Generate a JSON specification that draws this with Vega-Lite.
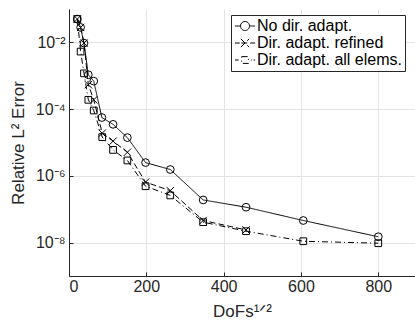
{
  "$schema": "https://vega.github.io/schema/vega-lite/v6.json",
  "autosize": "none",
  "padding": {"left": 69, "top": 9, "right": 0, "bottom": 45},
  "width": 346,
  "height": 267,
  "background": "white",
  "config": {
    "font": "Liberation Sans",
    "view": {"stroke": null},
    "axis": {
      "labelFont": "Liberation Sans",
      "titleFont": "Liberation Sans",
      "labelColor": "#262626",
      "titleColor": "#262626",
      "domainColor": "#262626",
      "tickColor": "#262626",
      "gridColor": "#e3e3e3",
      "labelFontSize": 16,
      "titleFontSize": 17,
      "titleFontWeight": "normal",
      "tickSize": -4
    },
    "legend": {
      "title": null,
      "orient": "none",
      "legendX": 162,
      "legendY": 6,
      "padding": 3,
      "strokeColor": "#262626",
      "fillColor": "white",
      "labelFont": "Liberation Sans",
      "labelFontSize": 16,
      "labelColor": "black",
      "rowPadding": 1,
      "labelOffset": 4,
      "symbolOffset": 3,
      "symbolSize": 225,
      "symbolStrokeColor": "black",
      "symbolFillColor": "transparent",
      "symbolStrokeWidth": 1
    }
  },
  "data": {
    "values": [
      {"series": "No dir. adapt.", "x": 21.5, "err": 0.05},
      {"series": "No dir. adapt.", "x": 30, "err": 0.028},
      {"series": "No dir. adapt.", "x": 38.8, "err": 0.0095},
      {"series": "No dir. adapt.", "x": 50, "err": 0.00107},
      {"series": "No dir. adapt.", "x": 64, "err": 0.00069},
      {"series": "No dir. adapt.", "x": 85, "err": 5.6e-5},
      {"series": "No dir. adapt.", "x": 114, "err": 3.5e-5},
      {"series": "No dir. adapt.", "x": 151, "err": 1.4e-5},
      {"series": "No dir. adapt.", "x": 198, "err": 2.5e-6},
      {"series": "No dir. adapt.", "x": 262, "err": 1.55e-6},
      {"series": "No dir. adapt.", "x": 347, "err": 1.9e-7},
      {"series": "No dir. adapt.", "x": 458, "err": 1.15e-7},
      {"series": "No dir. adapt.", "x": 606, "err": 4.6e-8},
      {"series": "No dir. adapt.", "x": 800, "err": 1.5e-8},
      {"series": "Dir. adapt. refined", "x": 21.5, "err": 0.05},
      {"series": "Dir. adapt. refined", "x": 30, "err": 0.028},
      {"series": "Dir. adapt. refined", "x": 38.8, "err": 0.0095},
      {"series": "Dir. adapt. refined", "x": 50, "err": 0.00054},
      {"series": "Dir. adapt. refined", "x": 64, "err": 0.00019},
      {"series": "Dir. adapt. refined", "x": 86, "err": 1.9e-5},
      {"series": "Dir. adapt. refined", "x": 114, "err": 1.1e-5},
      {"series": "Dir. adapt. refined", "x": 151, "err": 5.1e-6},
      {"series": "Dir. adapt. refined", "x": 198, "err": 6.5e-7},
      {"series": "Dir. adapt. refined", "x": 262, "err": 3.6e-7},
      {"series": "Dir. adapt. refined", "x": 347, "err": 4.6e-8},
      {"series": "Dir. adapt. refined", "x": 458, "err": 2.4e-8},
      {"series": "Dir. adapt. all elems.", "x": 21.5, "err": 0.05},
      {"series": "Dir. adapt. all elems.", "x": 30, "err": 0.0053},
      {"series": "Dir. adapt. all elems.", "x": 38.8, "err": 0.00118},
      {"series": "Dir. adapt. all elems.", "x": 50, "err": 0.00019},
      {"series": "Dir. adapt. all elems.", "x": 64, "err": 9.1e-5},
      {"series": "Dir. adapt. all elems.", "x": 86, "err": 1.45e-5},
      {"series": "Dir. adapt. all elems.", "x": 114, "err": 6e-6},
      {"series": "Dir. adapt. all elems.", "x": 151, "err": 2.9e-6},
      {"series": "Dir. adapt. all elems.", "x": 198, "err": 4.9e-7},
      {"series": "Dir. adapt. all elems.", "x": 262, "err": 2.6e-7},
      {"series": "Dir. adapt. all elems.", "x": 347, "err": 4.1e-8},
      {"series": "Dir. adapt. all elems.", "x": 458, "err": 2.2e-8},
      {"series": "Dir. adapt. all elems.", "x": 606, "err": 1.1e-8},
      {"series": "Dir. adapt. all elems.", "x": 800, "err": 9.6e-9}
    ]
  },
  "encoding": {
    "x": {
      "field": "x", "type": "quantitative",
      "scale": {"domain": [0, 895], "nice": false, "zero": false},
      "axis": {"values": [0, 200, 400, 600, 800], "title": "DoFs¹ᐟ²", "labelPadding": 6, "titlePadding": 9, "grid": true}
    },
    "y": {
      "field": "err", "type": "quantitative",
      "scale": {"type": "log", "domain": [1e-9, 0.1], "nice": false},
      "axis": {
        "values": [1e-8, 1e-6, 1e-4, 1e-2],
        "labelExpr": "'10' + (datum.value < 5e-8 ? '⁻⁸' : datum.value < 5e-6 ? '⁻⁶' : datum.value < 5e-4 ? '⁻⁴' : '⁻²')",
        "title": "Relative L² Error",
        "labelPadding": 8,
        "titlePadding": 8,
        "grid": true
      }
    }
  },
  "layer": [
    {
      "mark": {"type": "line", "color": "black", "strokeWidth": 1},
      "encoding": {
        "strokeDash": {
          "field": "series", "type": "nominal",
          "scale": {"domain": ["No dir. adapt.", "Dir. adapt. refined", "Dir. adapt. all elems."], "range": [[1, 0], [6, 3], [6, 3, 1, 3]]},
          "legend": {
            "encode": {
              "symbols": {
                "update": {
                  "shape": {"signal": "datum.value == 'No dir. adapt.' ? 'M-1.35,0L-0.6,0M0.6,0L1.35,0M-0.6,0A0.6,0.6 0 1,1 0.6,0A0.6,0.6 0 1,1 -0.6,0' : datum.value == 'Dir. adapt. refined' ? 'M-1.35,0L-0.7,0M-0.5,0L0.5,0M0.7,0L1.35,0M-0.55,-0.55L0.55,0.55M-0.55,0.55L0.55,-0.55' : 'M-1.35,0L-0.85,0M-0.45,-0.45L0.45,-0.45L0.45,0.45L-0.45,0.45Z M0.8,0L0.9,0M1.15,0L1.35,0'"},
                  "size": {"value": 225},
                  "fill": {"value": "transparent"},
                  "stroke": {"value": "black"}
                }
              }
            }
          }
        }
      }
    },
    {
      "mark": {"type": "point", "filled": false, "color": "black", "strokeWidth": 1, "opacity": 1},
      "encoding": {
        "shape": {
          "field": "series", "type": "nominal",
          "scale": {"range": ["square", "M-1,-1L1,1M-1,1L1,-1", "circle"]},
          "legend": null
        },
        "size": {
          "field": "series", "type": "ordinal",
          "scale": {"range": [45, 60, 85]},
          "legend": null
        }
      }
    }
  ]
}
